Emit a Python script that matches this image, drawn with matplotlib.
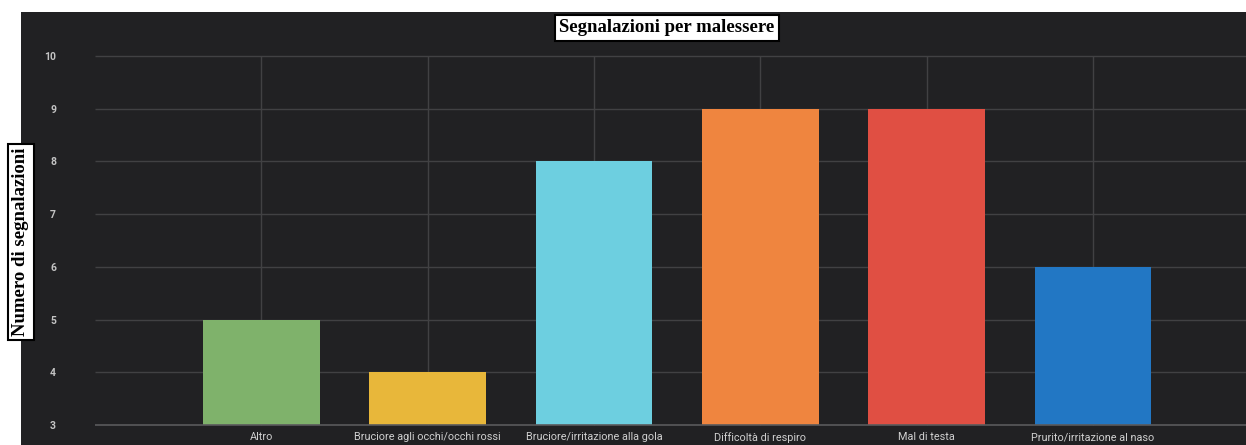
import matplotlib.pyplot as plt

categorie = ['Altro', 'Bruciore agli occhi/occhi rossi', 'Bruciore/irritazione alla gola',
             'Difficoltà di respiro', 'Mal di testa', 'Prurito/irritazione al naso']
segnalazioni = [5, 4, 8, 9, 9, 6]
colori = ['#7fb26b', '#e8b73a', '#6dcfe0', '#ef853f', '#e04f43', '#2277c4']
y_ticks = [3, 4, 5, 6, 7, 8, 9, 10]

sfondo = '#212123'
griglia = '#414143'

fig = plt.figure(figsize=(12.46, 4.45), dpi=100, facecolor='white')

# pannello scuro dietro al grafico
bg = fig.add_axes([21 / 1246, 0, 1 - 21 / 1246, 1 - 12 / 445], zorder=0)
bg.set_facecolor(sfondo)
bg.set_xticks([])
bg.set_yticks([])
for s in bg.spines.values():
    s.set_visible(False)

ax = fig.add_axes([95 / 1246, 0, 1 - 95 / 1246, 1 - 12 / 445], zorder=1)
ax.set_facecolor('none')
for s in ax.spines.values():
    s.set_visible(False)

x = list(range(len(categorie)))
ax.set_xlim(-1, 5.92)
ax.set_ylim(2.62, 10.835)

# griglia
ax.hlines(y_ticks[1:], -1, 5.92, color=griglia, lw=1, zorder=1)
ax.hlines(3, -1, 5.92, color='#5a5a5c', lw=1.2, zorder=3)
ax.vlines(x, 3, 10, color=griglia, lw=1, zorder=1)

ax.bar(x, [v - 3 for v in segnalazioni], bottom=3, width=0.7, color=colori, zorder=2)

ax.set_xticks([])
ax.set_yticks(y_ticks)
ax.set_yticklabels([str(t) for t in y_ticks], fontsize=7.5, fontweight='bold',
                   color='#c4c4c4', family='Roboto')
ax.tick_params(axis='y', length=0, pad=28)

for xi, nome in zip(x, categorie):
    ax.text(xi, 2.77, nome, ha='center', va='center', fontsize=7.8,
            color='#d0d0d0', family='Roboto')

box = dict(boxstyle='square,pad=0.22', facecolor='white', edgecolor='black', lw=1.5)

fig.text(0.5 * (552 + 782) / 1246, 1 - 28 / 445, 'Segnalazioni per malessere',
         ha='center', va='center', fontsize=13.5, fontweight='bold',
         family='Liberation Serif', color='black', bbox=box, zorder=5)

fig.text(21 / 1246, 1 - 242 / 445, 'Numero di segnalazioni', rotation=90,
         ha='center', va='center', fontsize=13.5, fontweight='bold',
         family='Liberation Serif', color='black', bbox=box, zorder=5)

fig.savefig('out.png', dpi=100, facecolor='white')
